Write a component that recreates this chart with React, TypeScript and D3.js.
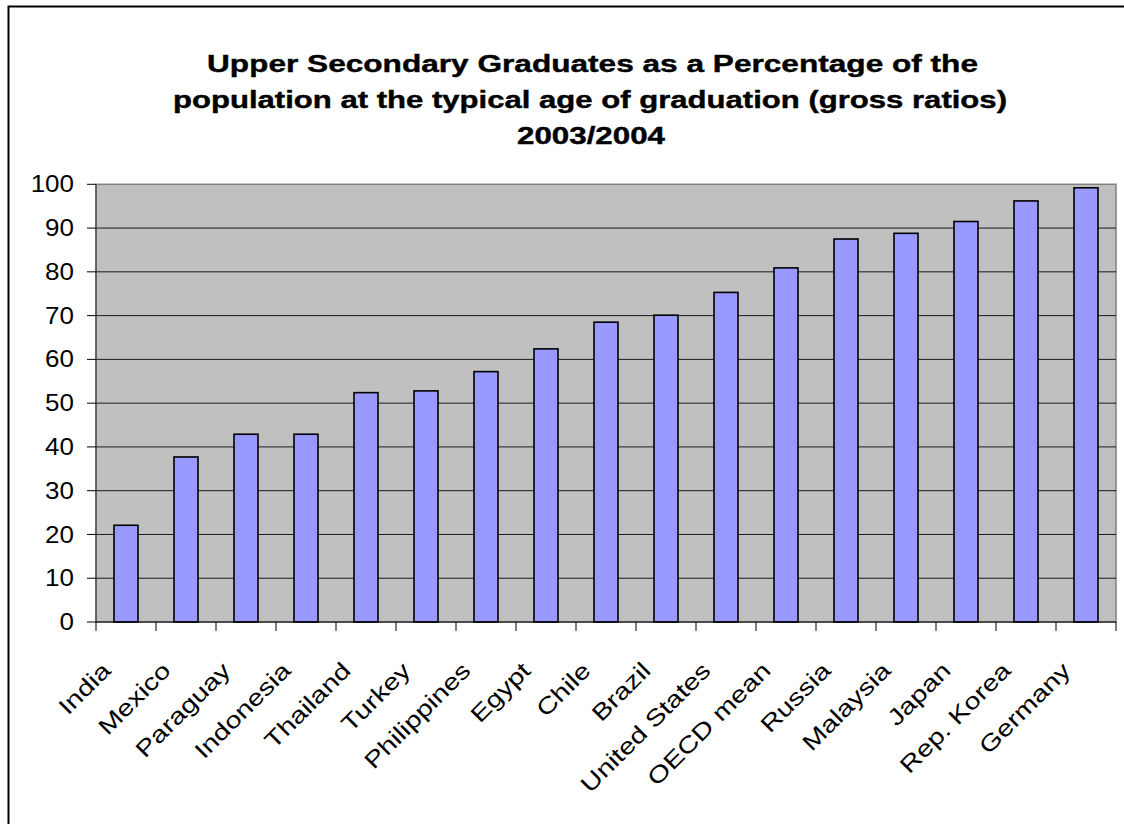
import React from "react";
import * as d3 from "d3";

const categories = [
  "India", "Mexico", "Paraguay", "Indonesia", "Thailand", "Turkey", "Philippines",
  "Egypt", "Chile", "Brazil", "United States", "OECD mean", "Russia", "Malaysia",
  "Japan", "Rep. Korea", "Germany",
];
const values = [22.1, 37.7, 42.9, 42.9, 52.4, 52.8, 57.2, 62.4, 68.5, 70.1, 75.3, 80.9, 87.5, 88.8, 91.5, 96.2, 99.2];
const yTicks = [0, 10, 20, 30, 40, 50, 60, 70, 80, 90, 100];
const titleLines = [
  "Upper Secondary Graduates as a Percentage of the",
  "population at the typical age of graduation (gross ratios)",
  "2003/2004",
];

const W = 1124;
const H = 824;
const plot = { left: 96, right: 1116, top: 184.3, bottom: 622 };
const FONT = "'Liberation Sans', Arial, sans-serif";

export default function App() {
  const x = d3.scaleBand<string>().domain(categories).range([plot.left, plot.right]).padding(0);
  const y = d3.scaleLinear().domain([0, 100]).range([plot.bottom, plot.top]);
  const bw = x.bandwidth();
  const barW = bw * 0.4;

  const titleSpecs = [
    { y: 72, x0: 207, len: 771 },
    { y: 108, x0: 173, len: 834 },
    { y: 143.5, x0: 517, len: 148 },
  ];

  const boundaries = categories.map((c) => x(c) as number).concat([plot.right]);

  return (
    <svg
      width={W}
      height={H}
      style={{ position: "absolute", left: 0, top: 0, background: "#fff" }}
      fontFamily={FONT}
    >
      <rect x={0} y={0} width={W} height={H} fill="#fff" />
      {/* outer chart border */}
      <rect x={8.5} y={6.5} width={W + 20} height={H + 20} fill="none" stroke="#000" strokeWidth={2} />

      {/* title */}
      {titleLines.map((t, i) => (
        <text
          key={i}
          x={titleSpecs[i].x0}
          y={titleSpecs[i].y}
          fontSize={23.5}
          fontWeight="bold"
          textLength={titleSpecs[i].len}
          lengthAdjust="spacingAndGlyphs"
          fill="#000"
          stroke="#000"
          strokeWidth={0.4}
        >
          {t}
        </text>
      ))}

      {/* plot area */}
      <rect
        x={plot.left}
        y={plot.top}
        width={plot.right - plot.left}
        height={plot.bottom - plot.top}
        fill="#C0C0C0"
        stroke="#808080"
        strokeWidth={1.5}
      />

      {/* gridlines */}
      {yTicks.filter((t) => t > 0 && t < 100).map((t) => (
        <line key={t} x1={plot.left} x2={plot.right} y1={y(t)} y2={y(t)} stroke="#1a1a1a" strokeWidth={1} />
      ))}

      {/* bars */}
      {categories.map((c, i) => (
        <rect
          key={c}
          x={(x(c) as number) + (bw - barW) / 2}
          y={y(values[i])}
          width={barW}
          height={y(0) - y(values[i])}
          fill="#9999FF"
          stroke="#000"
          strokeWidth={1.6}
        />
      ))}

      {/* axes */}
      <line x1={plot.left} x2={plot.left} y1={plot.top} y2={plot.bottom} stroke="#333" strokeWidth={1} />
      <line x1={plot.left} x2={plot.right} y1={plot.bottom} y2={plot.bottom} stroke="#000" strokeWidth={1} />

      {yTicks.map((t) => (
        <g key={t}>
          <line x1={plot.left - 9} x2={plot.left} y1={y(t)} y2={y(t)} stroke="#000" strokeWidth={1} />
          <text
            transform={`translate(74,${y(t)}) scale(1.13,1)`}
            dy="0.35em"
            textAnchor="end"
            fontSize={23}
            fill="#000"
          >
            {t}
          </text>
        </g>
      ))}

      {boundaries.map((bx, i) => (
        <line key={i} x1={bx} x2={bx} y1={plot.bottom} y2={plot.bottom + 9} stroke="#000" strokeWidth={1} />
      ))}

      {categories.map((c) => {
        const cx = (x(c) as number) + bw / 2;
        return (
          <text
            key={c}
            transform={`translate(${cx - 14},672) rotate(-45) scale(1.25,1)`}
            textAnchor="end"
            fontSize={23}
            fill="#000"
          >
            {c}
          </text>
        );
      })}
    </svg>
  );
}
